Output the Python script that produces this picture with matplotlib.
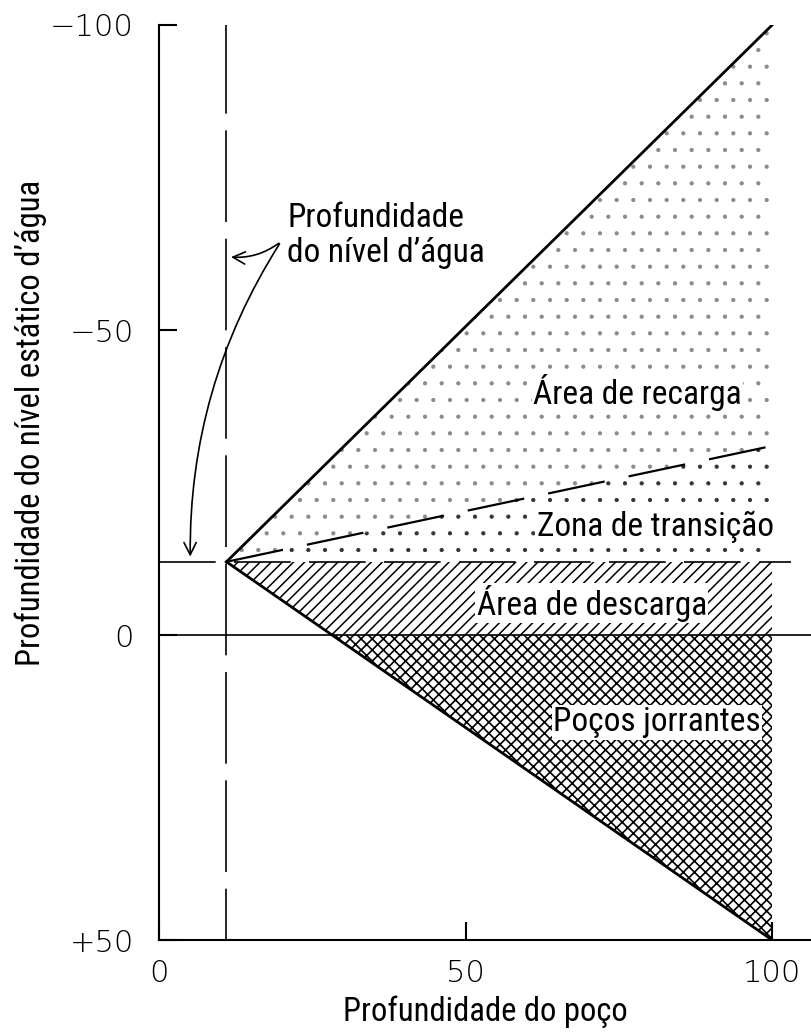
import numpy as np
import matplotlib
matplotlib.use("Agg")
import matplotlib.pyplot as plt
from matplotlib import font_manager

# pick a condensed sans if one is installed
installed = {f.name for f in font_manager.fontManager.ttflist}
label_font = 'Roboto'
for name in ['Roboto Condensed', 'Liberation Sans Narrow', 'Open Sans Condensed',
             'Noto Sans Condensed', 'DejaVu Sans Condensed']:
    if name in installed:
        label_font = name
        break
plt.rcParams['font.family'] = [label_font, 'DejaVu Sans']

# well depth (x) and static water level depth (y), y axis inverted
x_ticks = [0, 50, 100]
x_tick_labels = ['0', '50', '100']
y_ticks = [-100, -50, 0, 50]
y_tick_labels = ['\u2212100', '\u221250', '0', '+50']

apex = (11, -12)            # where all boundaries meet
recharge_end = (100, -100)  # upper solid line
transition_end = (100, -31) # long dashed line
flowing_end = (100, 50)     # lower solid line
static_level = -12          # horizontal dashed line
well_x = 11                 # vertical dashed line

zone_labels = ['Área de recarga', 'Zona de transição', 'Área de descarga', 'Poços jorrantes']
zone_pos = [(78, -39.7), (80.9, -17.7), (70.6, -5.2), (81.2, 14.3)]

fs = 24


def hatch_lw(patches, lw):
    for p in patches:
        if hasattr(p, 'set_hatch_linewidth'):
            p.set_hatch_linewidth(lw)


fig = plt.figure(figsize=(8.12, 10.33), dpi=100)
ax = fig.add_axes([0.1958, 0.0900, 0.8042, 0.8858])
ax.set_xlim(0, 106.5)
ax.set_ylim(50, -100)

# zero crossing of the lower line
x_zero = apex[0] + (0 - apex[1]) * (flowing_end[0] - apex[0]) / (flowing_end[1] - apex[1])

# dotted recharge area (between upper solid and dashed line), sparse
p = ax.fill([apex[0], recharge_end[0], transition_end[0]],
            [apex[1], recharge_end[1], transition_end[1]],
            facecolor='none', edgecolor='#8a8a8a', hatch='.', linewidth=0)
hatch_lw(p, 0.6)
# denser dots in transition zone
p = ax.fill([apex[0], transition_end[0], transition_end[0]],
            [apex[1], transition_end[1], static_level],
            facecolor='none', edgecolor='#333333', hatch='.', linewidth=0)
hatch_lw(p, 0.6)
# discharge area
p = ax.fill([apex[0], 100, 100, x_zero], [static_level, static_level, 0, 0],
            facecolor='none', edgecolor='black', hatch='///', linewidth=0)
hatch_lw(p, 1.1)
# flowing wells
p = ax.fill([x_zero, 100, flowing_end[0]], [0, 0, flowing_end[1]],
            facecolor='none', edgecolor='black', hatch='xxx', linewidth=0)
hatch_lw(p, 1.2)

ax.plot([apex[0], recharge_end[0]], [apex[1], recharge_end[1]], color='black', lw=2)
ax.plot([apex[0], flowing_end[0]], [apex[1], flowing_end[1]], color='black', lw=2)
ax.plot([apex[0], transition_end[0]], [apex[1], transition_end[1]], color='black', lw=1.6,
        dashes=(26, 11))
ax.plot([0, 103], [static_level, static_level], color='black', lw=1.2, dashes=(34, 11))
ax.plot([well_x, well_x], [-100.5, 50], color='black', lw=1.2, dashes=(55, 10))
ax.axhline(0, color='black', lw=1.2)

for label, (lx, ly) in zip(zone_labels, zone_pos):
    ax.text(lx, ly, label, fontsize=fs, ha='center', va='center',
            bbox=dict(facecolor='white', edgecolor='none', pad=1))

# annotation for water level depth
ax.text(20.9, -65.5, 'Profundidade\ndo nível d\u2019água', fontsize=fs,
        ha='left', va='center', linespacing=1.15)
ax.annotate('', xy=(11.3, -62), xytext=(19.9, -64.5),
            arrowprops=dict(arrowstyle='->', color='black', lw=1.2,
                            connectionstyle='arc3,rad=-0.2', mutation_scale=22))
ax.annotate('', xy=(5.1, -12.4), xytext=(19.9, -64.5),
            arrowprops=dict(arrowstyle='->', color='black', lw=1.2,
                            connectionstyle='arc3,rad=0.15', mutation_scale=22))

ax.spines['top'].set_visible(False)
ax.spines['right'].set_visible(False)
ax.spines['left'].set_bounds(-100, 50)
ax.spines['left'].set_linewidth(1.5)
ax.spines['bottom'].set_linewidth(1.5)

ax.set_xticks(x_ticks)
ax.set_xticklabels(x_tick_labels)
ax.set_yticks(y_ticks)
ax.set_yticklabels(y_tick_labels)
ax.tick_params(direction='in', length=13, width=1.5, labelsize=22)
ax.tick_params(axis='y', pad=18)
ax.tick_params(axis='x', pad=14)
for t in ax.get_xticklabels() + ax.get_yticklabels():
    t.set_fontfamily('DejaVu Sans')
    t.set_fontweight('light')

ax.set_xlabel('Profundidade do poço', fontsize=23.5, labelpad=5)
ax.set_ylabel('Profundidade do nível estático d\u2019água', fontsize=23.5)
ax.yaxis.set_label_coords(-0.172, 0.565)

fig.savefig('out.png', dpi=100)
